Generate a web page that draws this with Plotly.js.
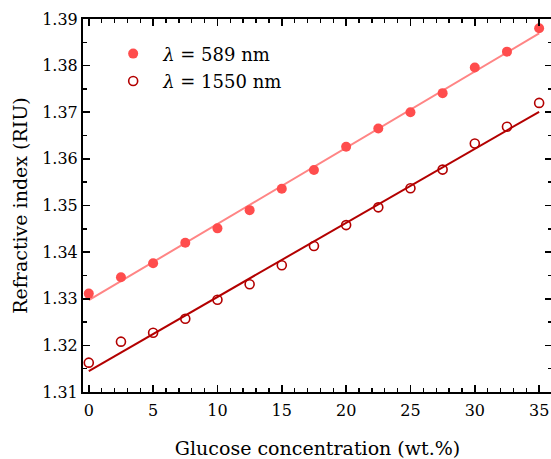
<!DOCTYPE html>
<html>
<head>
<meta charset="utf-8">
<script src="https://cdn.plot.ly/plotly-3.0.1.min.js"></script>
<style>
  html, body { margin: 0; padding: 0; overflow: hidden; background: #fff; }
  #chart { width: 552px; height: 459px; }
</style>
</head>
<body>
<div id="chart"></div>
<script>
// Glucose concentration (wt.%)
const concentration = [0, 2.5, 5, 7.5, 10, 12.5, 15, 17.5, 20, 22.5, 25, 27.5, 30, 32.5, 35];

// Measured refractive index (RIU)
const n589 = [1.3311, 1.3346, 1.3376, 1.3420, 1.3451, 1.3490, 1.3536, 1.3576, 1.3626,
              1.3665, 1.3700, 1.3741, 1.3796, 1.3830, 1.3880];
const n1550 = [1.3163, 1.3208, 1.3227, 1.3257, 1.3298, 1.3331, 1.3372, 1.3413, 1.3458,
               1.3496, 1.3537, 1.3577, 1.3633, 1.3669, 1.3720];

// Linear fit end points
const fitX = [0, 35];
const fit589 = [1.3297, 1.3869];
const fit1550 = [1.3145, 1.3701];

const legend589 = '<i>λ</i> = 589 nm';
const legend1550 = '<i>λ</i> = 1550 nm';

const xTicks = [0, 5, 10, 15, 20, 25, 30, 35];
const yTicks = [1.31, 1.32, 1.33, 1.34, 1.35, 1.36, 1.37, 1.38, 1.39];

const font = 'DejaVu Serif, serif';
const c589 = '#ff4d4d';
const c589fit = '#ff8585';
const c1550 = '#b30000';

const traces = [
  {
    x: fitX, y: fit589, mode: 'lines', showlegend: false,
    line: { color: c589fit, width: 2 }, hoverinfo: 'skip'
  },
  {
    x: fitX, y: fit1550, mode: 'lines', showlegend: false,
    line: { color: c1550, width: 2 }, hoverinfo: 'skip'
  },
  {
    x: concentration, y: n589, mode: 'markers', name: legend589,
    legendgroup: 'a',
    marker: { symbol: 'circle', size: 10, color: c589, line: { width: 0 } }
  },
  {
    x: concentration, y: n1550, mode: 'markers', name: legend1550,
    legendgroup: 'b',
    marker: { symbol: 'circle-open', size: 9, color: c1550, line: { width: 1.6, color: c1550 } }
  }
];

const axisCommon = {
  showgrid: false, zeroline: false,
  showline: true, linecolor: '#000', linewidth: 2, mirror: 'ticks',
  ticks: 'inside', ticklen: 7, tickwidth: 1.6, tickcolor: '#000',
  tickfont: { family: font, size: 16, color: '#000' }
};

const layout = {
  width: 552, height: 459,
  margin: { l: 83, r: 0, t: 19, b: 67 },
  paper_bgcolor: '#fff', plot_bgcolor: '#fff',
  font: { family: font, color: '#000' },
  xaxis: Object.assign({}, axisCommon, {
    range: [-0.45, 36],
    tickvals: xTicks, ticktext: xTicks.map(String),
    ticklabelstandoff: 3,
    minor: { dtick: 1, tick0: 0, ticks: 'inside', ticklen: 4, tickwidth: 1.4, tickcolor: '#000' },
    title: { text: 'Glucose concentration (wt.%)', font: { family: font, size: 19, color: '#000' }, standoff: 22 }
  }),
  yaxis: Object.assign({}, axisCommon, {
    range: [1.31, 1.39],
    tickvals: yTicks, ticktext: yTicks.map(v => v.toFixed(2)),
    minor: { dtick: 0.005, tick0: 1.31, ticks: 'inside', ticklen: 4, tickwidth: 1.4, tickcolor: '#000' },
    title: { text: 'Refractive index (RIU)', font: { family: font, size: 19, color: '#000' }, standoff: 10 }
  }),
  showlegend: true,
  legend: {
    x: 0.043, y: 0.956, xanchor: 'left', yanchor: 'top',
    bgcolor: 'rgba(0,0,0,0)', borderwidth: 0,
    font: { family: font, size: 18, color: '#000' },
    itemwidth: 50, tracegroupgap: 1
  }
};

Plotly.newPlot('chart', traces, layout, { displayModeBar: false, staticPlot: true });
</script>
</body>
</html>
